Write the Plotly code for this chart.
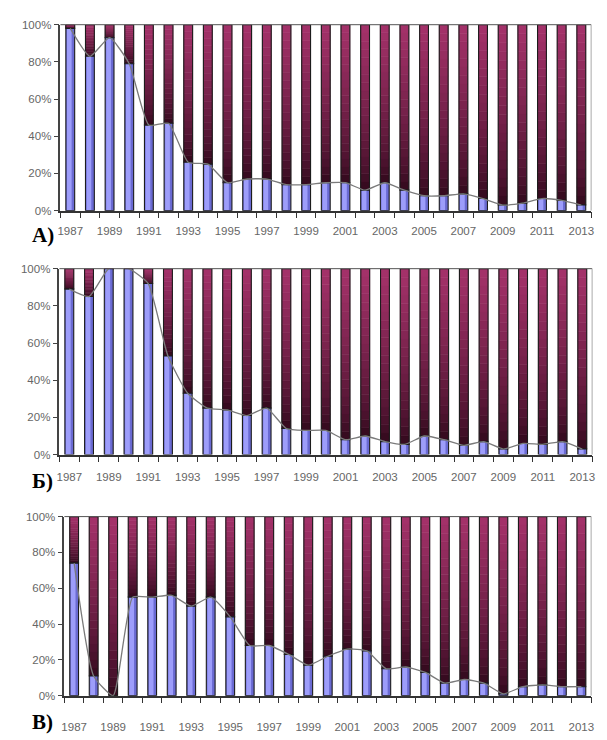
import plotly.graph_objects as go

years = list(range(1987, 2014))
tick_years = list(range(1987, 2014, 2))
tick_labels = [str(y) for y in tick_years]
pct_vals = [0, 20, 40, 60, 80, 100]
pct_labels = ["0%", "20%", "40%", "60%", "80%", "100%"]
panel_labels = ["А)", "Б)", "В)"]

share_a = [98, 83, 93, 79, 46, 47, 26, 25, 15, 17, 17, 14, 14, 15, 15, 11, 15, 11,
           8, 8, 9, 6.5, 3, 4, 6.5, 5.5, 3]
share_b = [89, 85, 100, 100, 92, 53, 33, 25, 24, 21, 25, 14, 13, 13, 8, 10, 7, 5.5,
           10, 8, 5, 7, 3, 6, 5.5, 7, 3]
share_c = [74, 11, 0, 55, 55, 56, 50, 55, 44, 28, 28, 23, 17, 22, 26, 25, 15, 16,
           13, 7, 9, 7, 1, 5, 6, 5, 5]

panels = [share_a, share_b, share_c]

W, H = 607, 740
# pixel boxes (left, right, top, bottom) of each plot area
boxes = [(58, 594, 19, 208), (57, 595, 267, 456), (62, 594, 519, 701)]
label_y = [233, 483, 728]
standoff = [9, 11, 20]

DARK = (46, 8, 26)
PINK = (165, 50, 106)
K = 20
BAR_W = 0.45


def mix(c1, c2, t):
    return "rgb(%d,%d,%d)" % tuple(round(a + (b - a) * t) for a, b in zip(c1, c2))


fig = go.Figure()
layout = dict(width=W, height=H, margin=dict(l=0, r=0, t=0, b=0),
              paper_bgcolor="white", plot_bgcolor="white", showlegend=False,
              barmode="overlay", annotations=[], shapes=[])

font_tick = "Liberation Sans, Arial, sans-serif"

for i, vals in enumerate(panels):
    xa = "x" if i == 0 else "x%d" % (i + 1)
    ya = "y" if i == 0 else "y%d" % (i + 1)
    rest = [100 - v for v in vals]
    # maroon part: vertical gradient bands
    for k in range(K):
        t = (k + 0.5) / K
        col = mix(DARK, PINK, t ** 0.7)
        fig.add_trace(go.Bar(
            x=years, y=[r / K for r in rest],
            base=[v + r * k / K for v, r in zip(vals, rest)],
            width=BAR_W, marker=dict(color=col, line=dict(color=col, width=0.6)),
            xaxis=xa, yaxis=ya, hoverinfo="skip"))
    # maroon outline
    fig.add_trace(go.Bar(
        x=years, y=rest, base=vals, width=BAR_W,
        marker=dict(color="rgba(0,0,0,0)", line=dict(color="#1c1c1c", width=1.1)),
        xaxis=xa, yaxis=ya, hoverinfo="skip"))
    # blue part
    fig.add_trace(go.Bar(
        x=years, y=vals, base=[0] * len(vals), width=BAR_W,
        marker=dict(color="#6a6ad2", line=dict(width=0)),
        xaxis=xa, yaxis=ya, hoverinfo="skip"))
    fig.add_trace(go.Bar(
        x=years, y=vals, base=[0] * len(vals), width=0.24, offset=-0.17,
        marker=dict(color="#9d9dfa", line=dict(width=0)),
        xaxis=xa, yaxis=ya, hoverinfo="skip"))
    fig.add_trace(go.Bar(
        x=years, y=vals, base=[0] * len(vals), width=BAR_W,
        marker=dict(color="rgba(0,0,0,0)", line=dict(color="#1c1c1c", width=1.1)),
        xaxis=xa, yaxis=ya, hoverinfo="skip"))
    # line over bar tops
    fig.add_trace(go.Scatter(
        x=years, y=vals, mode="lines",
        line=dict(color="#7a7a7a", width=1.3, shape="spline", smoothing=0.5),
        xaxis=xa, yaxis=ya, hoverinfo="skip"))

    l, r, t, b = boxes[i]
    xkey = "xaxis" if i == 0 else "xaxis%d" % (i + 1)
    ykey = "yaxis" if i == 0 else "yaxis%d" % (i + 1)
    layout[xkey] = dict(
        domain=[l / W, r / W], anchor=ya, range=[1986.5, 2013.5],
        tickvals=tick_years, ticktext=tick_labels, ticks="",
        minor=dict(tick0=1986.5, dtick=1, ticks="outside", ticklen=6,
                   tickcolor="#333", tickwidth=1.2),
        showline=True, linecolor="#333", linewidth=1.5,
        showgrid=False, zeroline=False, ticklabelstandoff=standoff[i],
        tickfont=dict(family=font_tick, size=11.5, color="#666"))
    layout[ykey] = dict(
        domain=[1 - b / H, 1 - t / H], anchor=xa, range=[0, 100],
        tickvals=pct_vals, ticktext=pct_labels,
        ticks="outside", ticklen=5, tickcolor="#444", tickwidth=1.2,
        showline=True, linecolor="#444", linewidth=1.5,
        showgrid=False, zeroline=False,
        tickfont=dict(family=font_tick, size=11.5, color="#666"))
    # top and right borders of plot area
    layout["shapes"].append(dict(type="line", xref=xa + " domain", yref=ya + " domain",
                                 x0=0, x1=1, y0=1, y1=1,
                                 line=dict(color="#555", width=1)))
    layout["shapes"].append(dict(type="line", xref=xa + " domain", yref=ya + " domain",
                                 x0=1, x1=1, y0=0, y1=1,
                                 line=dict(color="#aaa", width=1)))
    layout["annotations"].append(dict(
        text="<b>%s</b>" % panel_labels[i], xref="paper", yref="paper",
        x=27 / W, y=1 - label_y[i] / H, xanchor="left", yanchor="middle",
        showarrow=False,
        font=dict(family="Liberation Serif, Times New Roman, serif", size=21, color="black")))

fig.update_layout(**layout)
fig.write_html("out.html", config={"displayModeBar": False},
               post_script="document.body.style.margin='0px';document.body.style.overflow='hidden';")
